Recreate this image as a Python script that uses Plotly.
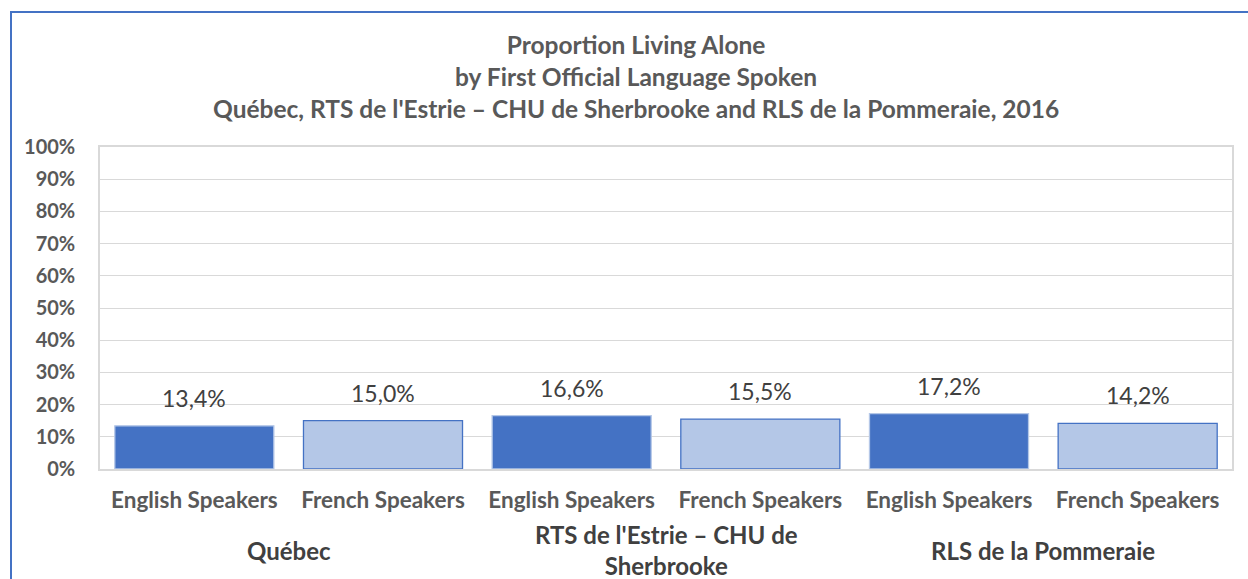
import plotly.graph_objects as go

groups = ["Québec", "RTS de l'Estrie – CHU de<br>Sherbrooke", "RLS de la Pommeraie"]
categories = ["English Speakers", "French Speakers", "English Speakers", "French Speakers", "English Speakers", "French Speakers"]
values = [13.4, 15.0, 16.6, 15.5, 17.2, 14.2]
value_labels = ["13,4%", "15,0%", "16,6%", "15,5%", "17,2%", "14,2%"]
y_ticks = [0, 10, 20, 30, 40, 50, 60, 70, 80, 90, 100]
y_tick_labels = [f"{v}%" for v in y_ticks]

FONT = "Lato"
DARK = "#4472C4"
LIGHT = "#B4C7E7"
TXT = "#595959"

xpos = list(range(len(categories)))
fills = [DARK if c.startswith("English") else LIGHT for c in categories]
lines = [LIGHT if c.startswith("English") else DARK for c in categories]

fig = go.Figure()
fig.add_trace(go.Bar(
    x=xpos, y=values, width=0.843,
    marker=dict(color=fills, line=dict(color=lines, width=1.3)),
    hoverinfo="skip",
))

annotations = []
for x, v, t in zip(xpos, values, value_labels):
    annotations.append(dict(x=x, y=v, xref="x", yref="y", text=t, showarrow=False,
                            yanchor="bottom", yshift=12,
                            font=dict(family=FONT, size=23, color="#404040")))
for i, g in enumerate(groups):
    annotations.append(dict(x=2 * i + 0.5, y=(469 - 550) / 322, xref="x", yref="paper", text=g,
                            showarrow=False, yanchor="middle",
                            font=dict(family=FONT, size=24, color="#404040", weight="bold")))
annotations.append(dict(x=(636 - 100) / 1132, y=1 + (147 - 77) / 322, xref="paper", yref="paper",
                        text="Proportion Living Alone<br>by First Official Language Spoken<br>"
                             "Québec, RTS de l'Estrie – CHU de Sherbrooke and RLS de la Pommeraie, 2016",
                        showarrow=False, xanchor="center", yanchor="middle",
                        font=dict(family=FONT, size=24.5, color=TXT, weight="bold")))

fig.update_layout(
    width=1248, height=579,
    margin=dict(l=100, r=16, t=147, b=110),
    paper_bgcolor="white", plot_bgcolor="white",
    showlegend=False,
    annotations=annotations,
    xaxis=dict(tickmode="array", tickvals=xpos, ticktext=categories,
               range=[-0.5, 5.5], showgrid=False, zeroline=False,
               showline=True, linecolor="#D9D9D9", linewidth=1.5, mirror=True,
               ticks="", tickfont=dict(family=FONT, size=22.5, color=TXT, weight="bold"),
               ticklabelstandoff=10),
    yaxis=dict(range=[0, 100], tickmode="array", tickvals=y_ticks, ticktext=y_tick_labels,
               showgrid=True, gridcolor="#D9D9D9", gridwidth=1.3, zeroline=False,
               showline=True, linecolor="#D9D9D9", linewidth=1.5, mirror=True,
               ticks="", tickfont=dict(family=FONT, size=20, color=TXT, weight="bold"),
               ticklabelstandoff=19),
    shapes=[dict(type="rect", xref="paper", yref="paper",
                 x0=(11 - 100) / 1132, x1=(1262 - 100) / 1132,
                 y0=1 - (600 - 147) / 322, y1=1 + (147 - 12) / 322,
                 line=dict(color=DARK, width=2), fillcolor="rgba(0,0,0,0)", layer="below")],
)

fig.write_html("out.html", config={"displayModeBar": False},
               post_script="document.body.style.margin='0';")
